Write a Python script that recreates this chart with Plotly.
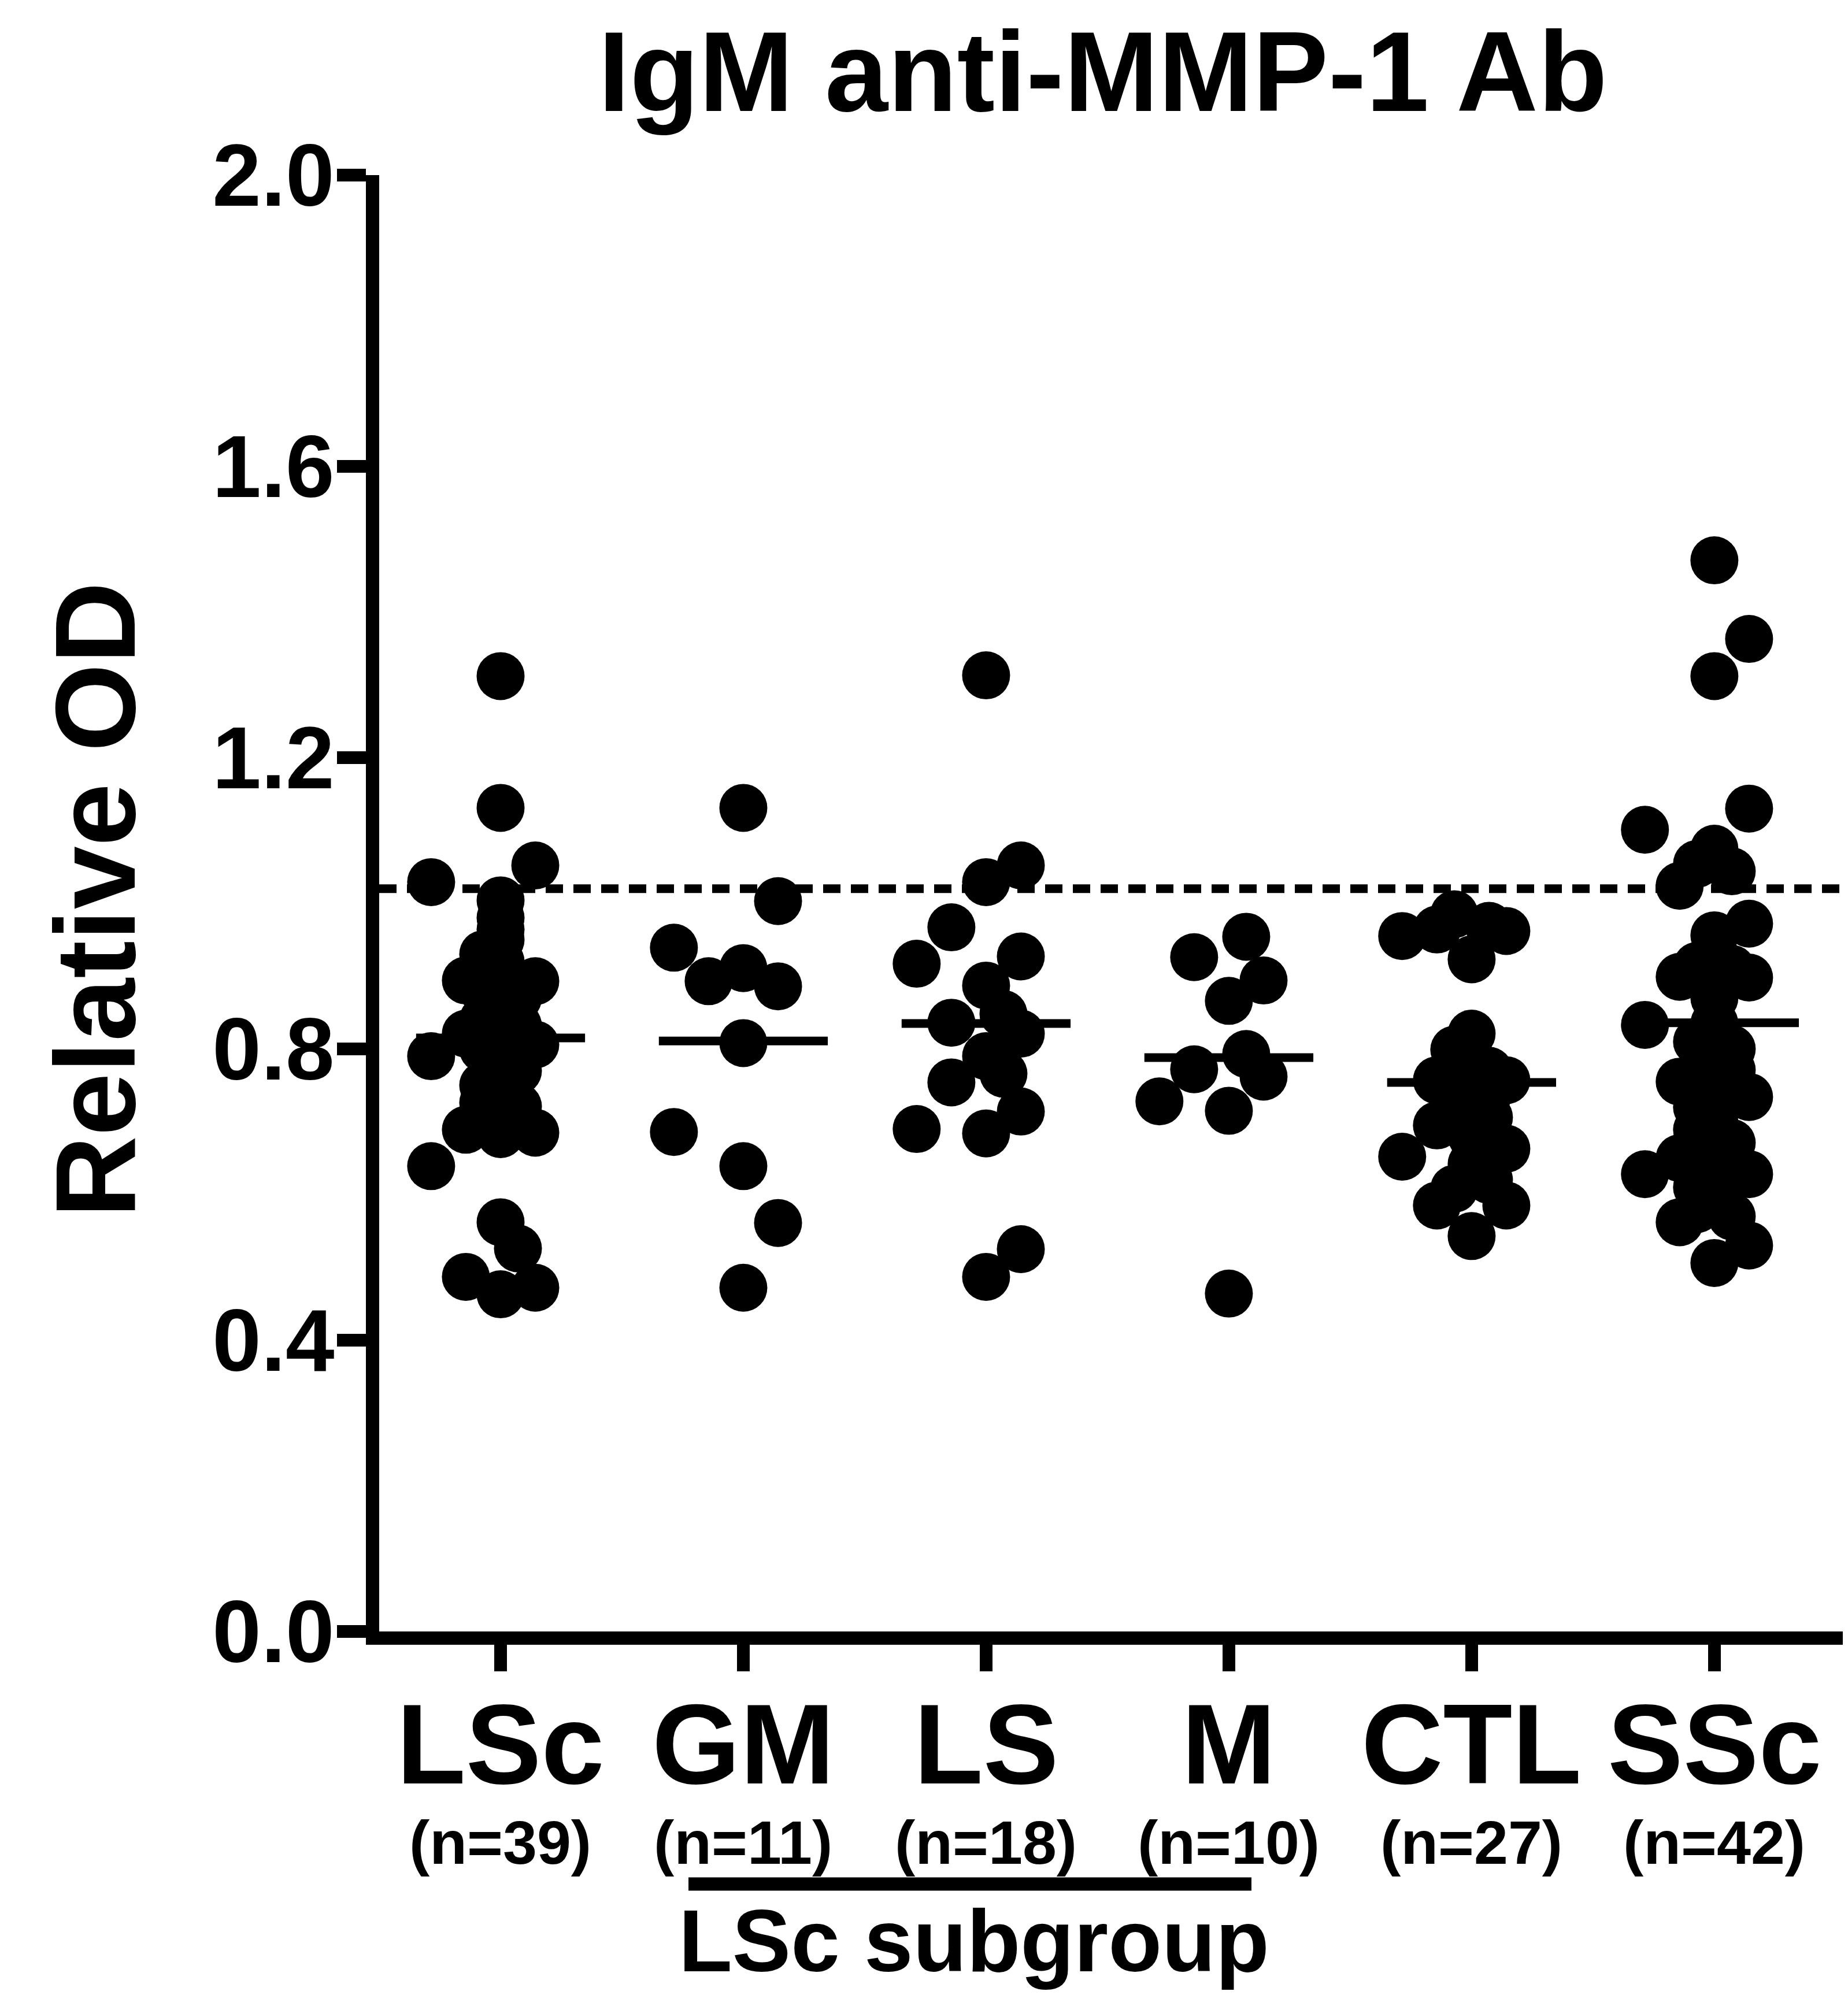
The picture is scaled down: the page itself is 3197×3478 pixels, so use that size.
import plotly.graph_objects as go

categories = ["LSc", "GM", "LS", "M", "CTL", "SSc"]
n_labels = ["(n=39)", "(n=11)", "(n=18)", "(n=10)", "(n=27)", "(n=42)"]

lsc_vals = [1.312, 1.131, 1.052, 1.029, 1.004, 0.964, 0.930, 0.894, 0.893, 0.821,
            0.790, 0.806, 0.832, 0.758, 0.721, 0.726, 0.689, 0.683, 0.685, 0.639,
            0.562, 0.526, 0.487, 0.463, 0.472,
            0.98, 0.95, 0.92, 0.90, 0.88, 0.87, 0.85, 0.84, 0.82, 0.80, 0.80, 0.79, 0.77, 0.75]
lsc_slots = [0, 0, 1, -2, 0, 0, -0.5, -1, 1, -1,
             -2, 1, 0.5, 0, 0.5, -0.5, -1, 0, 1, -2,
             0, 0.5, -1, 0, 1,
             0, 0, 0, 0, -0.5, 0.5, 0, -0.5, 0, 0.5, -0.5, 0, 0.5, -0.5]

gm_vals = [1.131, 1.003, 0.939, 0.893, 0.911, 0.886, 0.808, 0.686, 0.639, 0.561, 0.472]
gm_slots = [0, 1, -2, -1, 0, 1, 0, -2, 0, 1, 0]

ls_vals = [1.313, 1.052, 1.029, 0.967, 0.917, 0.927, 0.887, 0.848, 0.836, 0.821,
           0.790, 0.766, 0.754, 0.714, 0.690, 0.684, 0.525, 0.487]
ls_slots = [0, 1, 0, -1, -2, 1, 0, 0.5, -1, 1, 0, 0.5, -1, 1, -2, 0, 1, 0]

m_vals = [0.926, 0.954, 0.894, 0.866, 0.793, 0.772, 0.762, 0.728, 0.715, 0.464]
m_slots = [-1, 0.5, 1, 0, 0.5, -1, 1, -2, 0, 0]

ctl_vals = [0.955, 0.964, 0.985, 0.923, 0.969, 0.962, 0.821, 0.799, 0.757, 0.757,
            0.695, 0.706, 0.652, 0.663, 0.642, 0.608, 0.585, 0.585, 0.543,
            0.78, 0.76, 0.74, 0.73, 0.72, 0.77, 0.68, 0.62]
ctl_slots = [-2, -1, -0.5, 0, 0.5, 1, 0, -0.5, -1, 1,
             -1, 0.5, -2, 1, 0, -0.5, -1, 1, 0,
             0, 0, 0.5, -0.5, 0, 0.5, 0, 0.5]

ssc_vals = [1.471, 1.363, 1.312, 1.130, 1.101, 1.075, 1.054, 1.044, 1.024, 0.972,
            0.956, 0.914, 0.910, 0.899, 0.898, 0.833, 0.835, 0.793, 0.771, 0.755,
            0.734, 0.689, 0.671, 0.650, 0.628, 0.628, 0.562, 0.570, 0.530, 0.506,
            0.93, 0.87, 0.81, 0.80, 0.74, 0.72, 0.70, 0.66, 0.64, 0.61, 0.60, 0.58]
ssc_slots = [0, 1, 0, 1, -2, 0, -0.5, 0.5, -1, 1,
             0, -0.5, 0.5, -1, 1, -2, 0, 0, 0.5, -1,
             1, -0.5, 0.5, -1, -2, 1, -1, 0.5, 1, 0,
             0, 0, -0.5, 0.5, 0, -0.5, 0, 0, 0.5, -0.5, 0, -0.5]

group_means = [0.815, 0.811, 0.835, 0.788, 0.754, 0.836]
cutoff = 1.02
y_ticks = [0.0, 0.4, 0.8, 1.2, 1.6, 2.0]

groups = [(lsc_vals, lsc_slots), (gm_vals, gm_slots), (ls_vals, ls_slots),
          (m_vals, m_slots), (ctl_vals, ctl_slots), (ssc_vals, ssc_slots)]

W, H = 3197, 3478
ML, MR, MT, MB = 648, 17, 295, 663
FONT = "Liberation Sans, Arial, sans-serif"
SLOT = 0.143
HALF = 0.348
XR = [-0.5, 5.529]

fig = go.Figure()

for k, (vals, slots) in enumerate(groups):
    fig.add_trace(go.Scatter(
        x=[k + s * SLOT for s in slots], y=vals, mode="markers",
        marker=dict(size=83, color="black", line=dict(width=0)),
        showlegend=False, hoverinfo="skip", cliponaxis=False))

for k, mval in enumerate(group_means):
    fig.add_trace(go.Scatter(
        x=[k - HALF, k + HALF], y=[mval, mval], mode="lines",
        line=dict(color="black", width=15), showlegend=False, hoverinfo="skip"))

fig.add_trace(go.Scatter(
    x=XR, y=[cutoff, cutoff], mode="lines",
    line=dict(color="black", width=15, dash="30px,18px"),
    showlegend=False, hoverinfo="skip"))

def py2paper(py):
    return (H - MB - py) / (H - MB - MT)

ann = []
for k, (c, n) in enumerate(zip(categories, n_labels)):
    ann.append(dict(x=k, y=py2paper(3010), xref="x", yref="paper", text=c,
                    showarrow=False, xanchor="center", yanchor="middle",
                    font=dict(family=FONT, size=196, color="black", weight="bold")))
    ann.append(dict(x=k, y=py2paper(3180), xref="x", yref="paper", text=n,
                    showarrow=False, xanchor="center", yanchor="middle",
                    font=dict(family=FONT, size=106, color="black", weight="bold")))

ann.append(dict(x=1.95, y=py2paper(3350), xref="x", yref="paper", text="LSc subgroup",
                showarrow=False, xanchor="center", yanchor="middle",
                font=dict(family=FONT, size=152, color="black", weight="bold")))
ann.append(dict(x=2.481, y=py2paper(116), xref="x", yref="paper", text="IgM anti-MMP-1 Ab",
                showarrow=False, xanchor="center", yanchor="middle",
                font=dict(family=FONT, size=196, color="black", weight="bold")))
ann.append(dict(x=(157 - ML) / (W - ML - MR), y=py2paper(1549), xref="paper", yref="paper",
                text="Relative OD", textangle=-90, showarrow=False,
                xanchor="center", yanchor="middle",
                font=dict(family=FONT, size=196, color="black", weight="bold")))

fig.add_shape(type="line", xref="x", yref="paper", x0=0.774, x1=3.093,
              y0=py2paper(3252), y1=py2paper(3252), line=dict(color="black", width=23))

fig.update_layout(
    width=W, height=H,
    margin=dict(l=ML, r=MR, t=MT, b=MB, pad=0),
    paper_bgcolor="white", plot_bgcolor="white",
    annotations=ann,
    xaxis=dict(range=XR, showgrid=False, zeroline=False, showline=True,
               linecolor="black", linewidth=23, ticks="outside", ticklen=46,
               tickwidth=22, tickcolor="black", tickvals=list(range(6)),
               showticklabels=False, fixedrange=True),
    yaxis=dict(range=[0, 2], showgrid=False, zeroline=False, showline=True,
               linecolor="black", linewidth=23, ticks="outside", ticklen=50,
               tickwidth=22, tickcolor="black", tickvals=y_ticks,
               ticktext=[f"{v:.1f}" for v in y_ticks], ticklabelstandoff=-26,
               tickfont=dict(family=FONT, size=152, color="black", weight="bold"),
               fixedrange=True),
)

fig.write_html("out.html")
